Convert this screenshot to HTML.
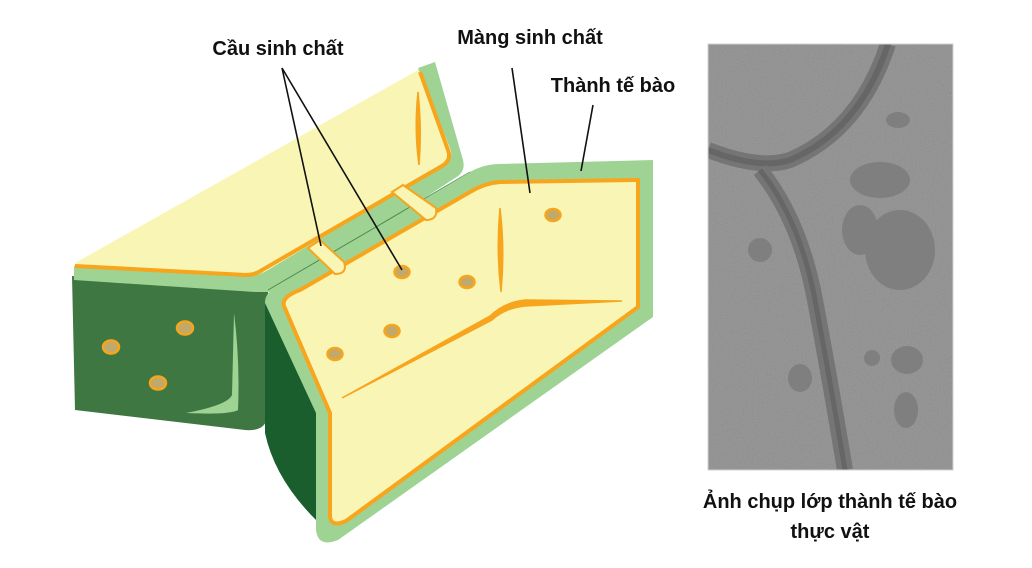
<!DOCTYPE html>
<html><head><meta charset="utf-8"><style>
html,body{margin:0;padding:0;background:#fff;}
svg{display:block;}
text{font-family:"Liberation Sans",sans-serif;font-weight:bold;fill:#111;}
</style></head><body>
<svg width="1032" height="568" viewBox="0 0 1032 568" xmlns="http://www.w3.org/2000/svg">
<defs>
<filter id="n" x="0" y="0" width="1" height="1"><feTurbulence type="fractalNoise" baseFrequency="0.9" numOctaves="2" seed="3"/><feColorMatrix type="saturate" values="0"/><feComponentTransfer><feFuncA type="table" tableValues="0 0.25"/></feComponentTransfer></filter>
</defs>
<!-- left dark box -->
<path d="M72,276 L268,292 L268,415 Q266,432 245,430 L75,410 Z" fill="#3f7743"/>
<path d="M234,313 Q240,360 238,410 Q230,415 186,413 Q228,405 232,395 Z" fill="#9fd394"/>
<!-- back panel -->
<path d="M75,263 L418,70 L420,68 L463,165 L270,283 L75,270 Z" fill="#f9f6b5"/>
<path d="M418,68 L435,62 L463,160 Q466,172 455,178 L280,292 L255,292 L74,280 L74,266 L248,276 Q258,276 268,270 L446,163 Q454,158 450,148 Z" fill="#9fd394"/>
<path d="M420,72 L448,150 Q452,160 442,166 L262,270 Q255,275 246,275 L75,266" fill="none" stroke="#f7a51c" stroke-width="4"/>
<path d="M418,92 Q414,130 419,165 Q422,130 418,92Z" fill="#f7a51c" stroke="#f7a51c" stroke-width="1.5"/>
<line x1="268" y1="290" x2="470" y2="172" stroke="#4c8a4f" stroke-width="1"/>
<!-- dark side strip -->
<path d="M265,300 L265,433 Q275,480 318,522 L318,413 L272,300 Z" fill="#1b5e2e"/>
<!-- front panel -->
<path d="M265,303 Q264,290 290,279 L470,172 Q484,164 500,164 L653,160 L653,317 L338,540 Q318,548 316,530 L316,413 Z" fill="#9fd394"/>
<path d="M284,306 Q281,297 300,290 L470,192 Q485,183 500,182 L638,180 L638,307 L346,521 Q330,528 330,515 L330,413 Z" fill="#f9f6b5" stroke="#f7a51c" stroke-width="4"/>
<path d="M342,398 L490,316 Q505,302 525,300 L622,301 L525,306 Q505,308 492,320 Z" fill="#f7a51c" stroke="#f7a51c" stroke-width="1.5"/>
<path d="M500,208 Q496,250 501,292 Q505,250 500,208Z" fill="#f7a51c" stroke="#f7a51c" stroke-width="1.5"/>
<!-- plasmodesmata -->
<path d="M308,248 L320,240 L344,262 Q348,274 335,274 Z" fill="#f9f6b5" stroke="#f7a51c" stroke-width="2"/>
<path d="M392,192 L403,185 L436,208 Q438,220 426,220 Z" fill="#f9f6b5" stroke="#f7a51c" stroke-width="2"/>
<!-- dots -->
<g fill="#c0a96a" stroke="#f7a51c" stroke-width="2.5">
<ellipse cx="553" cy="215" rx="7.5" ry="6"/><ellipse cx="467" cy="282" rx="7.5" ry="6"/>
<ellipse cx="402" cy="272" rx="7.5" ry="6"/><ellipse cx="392" cy="331" rx="7.5" ry="6"/>
<ellipse cx="335" cy="354" rx="7.5" ry="6"/><ellipse cx="111" cy="347" rx="8" ry="6.5"/>
<ellipse cx="185" cy="328" rx="8" ry="6.5"/><ellipse cx="158" cy="383" rx="8" ry="6.5"/>
</g>
<!-- leader lines -->
<g stroke="#111" stroke-width="1.6" fill="none">
<path d="M282,68 L321,246 M282,68 L402,270 M512,68 L530,193 M593,105 L581,171"/>
</g>
<text x="278" y="55" font-size="20" text-anchor="middle">Cầu sinh chất</text>
<text x="530" y="44" font-size="20" text-anchor="middle">Màng sinh chất</text>
<text x="613" y="92" font-size="20" text-anchor="middle">Thành tế bào</text>
<!-- photo -->
<svg x="708" y="44" width="245" height="426" viewBox="708 44 245 426">
<rect x="708" y="44" width="245" height="426" fill="#8e8e8e"/>
<rect x="708" y="44" width="245" height="426" filter="url(#n)"/>
<path d="M708,150 Q760,170 790,160 Q860,130 888,44" stroke="#757575" stroke-width="16" fill="none"/>
<path d="M708,150 Q760,170 790,160 Q860,130 888,44" stroke="#666" stroke-width="6" fill="none"/>
<path d="M760,170 Q800,220 815,300 Q830,380 845,470" stroke="#757575" stroke-width="16" fill="none"/>
<path d="M760,170 Q800,220 815,300 Q830,380 845,470" stroke="#666" stroke-width="5" fill="none"/>
<g fill="#7f7f7f">
<ellipse cx="898" cy="120" rx="12" ry="8"/><ellipse cx="880" cy="180" rx="30" ry="18"/>
<ellipse cx="900" cy="250" rx="35" ry="40"/><ellipse cx="860" cy="230" rx="18" ry="25"/>
<ellipse cx="760" cy="250" rx="12" ry="12"/><ellipse cx="907" cy="360" rx="16" ry="14"/>
<ellipse cx="906" cy="410" rx="12" ry="18"/><ellipse cx="800" cy="378" rx="12" ry="14"/>
<ellipse cx="872" cy="358" rx="8" ry="8"/>
</g>
</svg>
<rect x="708" y="44" width="245" height="426" fill="none" stroke="#d0d0d0" stroke-width="1"/>
<text x="830" y="508" font-size="20" text-anchor="middle">Ảnh chụp lớp thành tế bào</text>
<text x="830" y="538" font-size="20" text-anchor="middle">thực vật</text>
</svg>
</body></html>
